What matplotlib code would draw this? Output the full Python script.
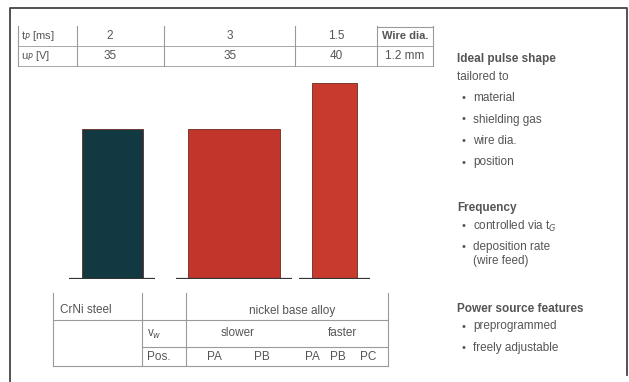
import matplotlib
matplotlib.use('Agg')
import matplotlib.pyplot as plt

# data
pulse_time = [2, 3, 1.5]          # t_P [ms]
pulse_volt = [35, 35, 40]         # u_P [V]
wire_dia = '1.2 mm'
bar_colors = ['#123841', '#c1352a', '#c93a2e']

pos_labels = ['PA', 'PB', 'PA', 'PB', 'PC']
speed_labels = ['slower', 'faster']

side_blocks = [
    ('Ideal pulse shape', ['tailored to'], ['material', 'shielding gas', 'wire dia.', 'position']),
    ('Frequency', [], ['controlled via t$_G$', 'deposition rate\n(wire feed)']),
    ('Power source features', [], ['preprogrammed', 'freely adjustable']),
]

plt.rcParams['font.family'] = ['Liberation Sans', 'DejaVu Sans']
txt = '#555555'
ln = '#9a9a9a'

fig = plt.figure(figsize=(6.29, 3.82), dpi=100)
ax = fig.add_axes([0, 0, 1, 1])
ax.set_xlim(0, 629)
ax.set_ylim(382, 0)
ax.axis('off')

# outer frame
ax.plot([10, 10, 627, 627], [382, 8, 8, 375], color='#444444', lw=1.3)

# top table
for x in [18, 77, 164, 295, 377, 433]:
    ax.plot([x, x], [26, 66], color=ln, lw=0.8)
ax.plot([18, 433], [46, 46], color=ln, lw=0.6)
ax.plot([18, 433], [66, 66], color=ln, lw=0.6)
ax.plot([377, 433], [27, 27], color=ln, lw=0.8)
ax.text(21, 36, 't$_P$ [ms]', color=txt, fontsize=8, va='center')
ax.text(21, 56, 'u$_P$ [V]', color=txt, fontsize=8, va='center')
col_x = [110, 230, 336]
for x, t, u in zip(col_x, pulse_time, pulse_volt):
    ax.text(x, 36, f'{t:g}', color=txt, fontsize=8.5, ha='center', va='center')
    ax.text(x, 56, f'{u}', color=txt, fontsize=8.5, ha='center', va='center')
ax.text(405, 36, 'Wire dia.', color=txt, fontsize=8, ha='center', va='center', fontweight='bold')
ax.text(405, 56, wire_dia, color=txt, fontsize=8.5, ha='center', va='center')

# bottom table
for x in [53, 142, 186, 388]:
    ax.plot([x, x], [293, 366], color=ln, lw=0.8)
ax.plot([53, 388], [320, 320], color=ln, lw=0.8)
ax.plot([142, 388], [347, 347], color=ln, lw=0.8)
ax.plot([53, 388], [366, 366], color=ln, lw=0.8)
ax.text(60, 310, 'CrNi steel', color=txt, fontsize=8.5, va='center')
ax.text(292, 311, 'nickel base alloy', color=txt, fontsize=8.5, ha='center', va='center')
ax.text(147, 334, 'v$_w$', color=txt, fontsize=8.5, va='center')
ax.text(147, 357, 'Pos.', color=txt, fontsize=8.5, va='center')
for x, s in zip([238, 342], speed_labels):
    ax.text(x, 333, s, color=txt, fontsize=8.5, ha='center', va='center')
for x, s in zip([214, 262, 312, 338, 368], pos_labels):
    ax.text(x, 357, s, color=txt, fontsize=8.5, ha='center', va='center')

# right-hand notes
y = 59
for head, plain, bullets in side_blocks:
    ax.text(457, y, head, color=txt, fontsize=8.5, fontweight='bold', va='center')
    y += 18
    for p in plain:
        ax.text(457, y, p, color=txt, fontsize=8.5, va='center')
        y += 21
    for b in bullets:
        ax.text(462, y, '•', color=txt, fontsize=8, va='center')
        if '\n' in b:
            ax.text(473, y - 6.5, b, color=txt, fontsize=8.5, va='top', linespacing=1.2)
            y += 37
        else:
            ax.text(473, y, b, color=txt, fontsize=8.5, va='center')
            y += 21.5
    y += 24

# bars: width = pulse time, height = pulse voltage
px_ms = 30.5
bx0, bx1, by0, by1 = 60, 380, 279, 75
bax = fig.add_axes([bx0 / 629, 1 - by0 / 382, (bx1 - bx0) / 629, (by0 - by1) / 382])
u0 = 18.7
bax.set_xlim(0, (bx1 - bx0) / px_ms)
bax.set_ylim(u0, u0 + (by0 - by1) / 9.2)
centers = [(112 - bx0) / px_ms, (234 - bx0) / px_ms, (334.5 - bx0) / px_ms]
bax.bar(centers, pulse_volt, width=pulse_time, color=bar_colors,
        edgecolor='#6a2a22', linewidth=0.6)
for c, w in zip(centers, pulse_time):
    bax.hlines(u0 + 0.05, c - w / 2 - 0.4, c + w / 2 + 0.4, color='#333333', lw=1.6)
bax.axis('off')

fig.savefig('out.png', dpi=100)
